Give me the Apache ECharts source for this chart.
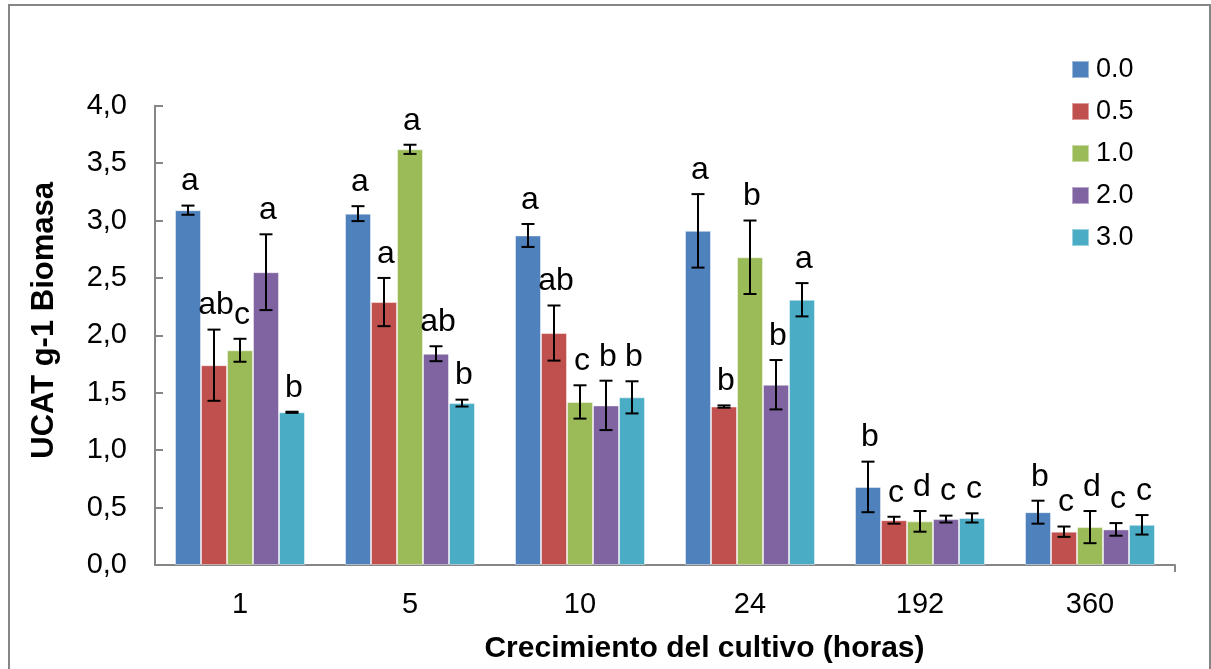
<!DOCTYPE html>
<html>
<head>
<meta charset="utf-8">
<script src="https://cdn.jsdelivr.net/npm/echarts@6/dist/echarts.min.js"></script>
<style>
  html, body { margin: 0; padding: 0; background: #fff; }
  #chart { width: 1211px; height: 669px; }
</style>
</head>
<body>
<div id="chart"></div>
<script>
// Culture growth time (hours)
const categories = ['1', '5', '10', '24', '192', '360'];
const seriesNames = ['0.0', '0.5', '1.0', '2.0', '3.0'];
const colors = ['#4F81BD', '#C0504D', '#9BBB59', '#8064A2', '#4BACC6'];

// Mean UCAT per g biomass for each treatment
const mean00 = [3.09, 3.06, 2.87, 2.91, 0.68, 0.46];
const mean05 = [1.74, 2.29, 2.02, 1.38, 0.39, 0.29];
const mean10 = [1.87, 3.62, 1.42, 2.68, 0.38, 0.33];
const mean20 = [2.55, 1.84, 1.39, 1.57, 0.40, 0.31];
const mean30 = [1.33, 1.41, 1.46, 2.31, 0.41, 0.35];

// Standard error for each bar
const err00 = [0.04, 0.065, 0.10, 0.32, 0.22, 0.10];
const err05 = [0.31, 0.21, 0.24, 0.01, 0.03, 0.045];
const err10 = [0.10, 0.04, 0.145, 0.32, 0.09, 0.14];
const err20 = [0.33, 0.065, 0.215, 0.215, 0.03, 0.055];
const err30 = [0.005, 0.03, 0.14, 0.145, 0.04, 0.085];

// Significance letters
const sig00 = ['a', 'a', 'a', 'a', 'b', 'b'];
const sig05 = ['ab', 'a', 'ab', 'b', 'c', 'c'];
const sig10 = ['c', 'a', 'c', 'b', 'd', 'd'];
const sig20 = ['a', 'ab', 'b', 'b', 'c', 'c'];
const sig30 = ['b', 'b', 'b', 'a', 'c', 'c'];

// Y axis ticks
const yTicks = [0, 0.5, 1.0, 1.5, 2.0, 2.5, 3.0, 3.5, 4.0];

const means = [mean00, mean05, mean10, mean20, mean30];
const errs = [err00, err05, err10, err20, err30];
const sigs = [sig00, sig05, sig10, sig20, sig30];

const FONT = '"Liberation Sans", Arial, sans-serif';
const CAT_GAP = 0.2353;

const chart = echarts.init(document.getElementById('chart'), null, { renderer: 'canvas' });

const barSeries = seriesNames.map((name, k) => ({
  name: name,
  type: 'bar',
  data: means[k],
  barGap: '0%',
  barCategoryGap: (CAT_GAP * 100) + '%',
  itemStyle: { color: colors[k], borderColor: 'rgba(255,255,255,0.45)', borderWidth: 1 },
  z: 2
}));

// Error bars with the letter above each one
const errSeries = seriesNames.map((name, k) => ({
  type: 'custom',
  data: categories.map((c, i) => [i, means[k][i], errs[k][i]]),
  z: 5,
  silent: true,
  renderItem: function (params, api) {
    const ci = api.value(0), v = api.value(1), e = api.value(2);
    const band = api.size([1, 0])[0];
    const bw = band * (1 - CAT_GAP) / seriesNames.length;
    const x = api.coord([ci, v])[0] + (k - (seriesNames.length - 1) / 2) * bw;
    const yTop = api.coord([ci, v + e])[1];
    const yBot = api.coord([ci, v - e])[1];
    const cap = 6.5;
    const ls = { stroke: '#000', lineWidth: 2 };
    return {
      type: 'group',
      children: [
        { type: 'line', shape: { x1: x, y1: yTop, x2: x, y2: yBot }, style: ls },
        { type: 'line', shape: { x1: x - cap, y1: yTop, x2: x + cap, y2: yTop }, style: ls },
        { type: 'line', shape: { x1: x - cap, y1: yBot, x2: x + cap, y2: yBot }, style: ls },
        {
          type: 'text',
          style: {
            text: sigs[k][params.dataIndex],
            x: x + 2,
            y: yTop - 24,
            align: 'center',
            verticalAlign: 'middle',
            fontFamily: FONT,
            fontSize: 32,
            fill: '#000'
          }
        }
      ]
    };
  }
}));

const option = {
  animation: false,
  backgroundColor: '#fff',
  grid: { left: 155, right: 36, top: 105.7, bottom: 104, containLabel: false },
  legend: {
    orient: 'vertical',
    left: 1066,
    top: 51,
    data: seriesNames,
    icon: 'rect',
    itemWidth: 17,
    itemHeight: 17,
    itemGap: 15,
    textStyle: { fontFamily: FONT, fontSize: 27, color: '#000', padding: [0, 0, 0, 2] }
  },
  xAxis: {
    type: 'category',
    data: categories,
    name: 'Crecimiento del cultivo (horas)',
    nameLocation: 'middle',
    nameGap: 69,
    nameTextStyle: { fontFamily: FONT, fontSize: 30, fontWeight: 'bold', color: '#000', padding: [0, 0, 0, 79] },
    axisLine: { lineStyle: { color: '#868686', width: 2 } },
    axisTick: { alignWithLabel: true, length: 6, lineStyle: { color: '#868686', width: 2 } },
    axisLabel: { fontFamily: FONT, fontSize: 29, color: '#000', margin: 25 },
    splitLine: { show: false }
  },
  yAxis: {
    type: 'value',
    min: yTicks[0],
    max: yTicks[yTicks.length - 1],
    interval: yTicks[1] - yTicks[0],
    name: 'UCAT g-1 Biomasa',
    nameLocation: 'middle',
    nameGap: 95,
    nameRotate: 90,
    nameTextStyle: { fontFamily: FONT, fontSize: 31, fontWeight: 'bold', color: '#000', padding: [0, 0, 0, 30] },
    axisLine: { show: true, lineStyle: { color: '#868686', width: 2 } },
    axisTick: { show: true, inside: true, length: 8, lineStyle: { color: '#868686', width: 2 } },
    axisLabel: {
      fontFamily: FONT, fontSize: 29, color: '#000', margin: 28,
      formatter: v => v.toFixed(1).replace('.', ',')
    },
    splitLine: { show: false }
  },
  series: barSeries.concat(errSeries)
};

chart.setOption(option);

// Closing tick at the right end of the category axis and the outer frame
const xa = chart.convertToPixel({ xAxisIndex: 0 }, categories.length - 1);
const xb = chart.convertToPixel({ xAxisIndex: 0 }, categories.length - 2);
const xEnd = xa + (xa - xb) / 2;
const yBase = chart.convertToPixel({ yAxisIndex: 0 }, 0);
chart.setOption({
  graphic: [
    { type: 'line', shape: { x1: xEnd, y1: yBase, x2: xEnd, y2: yBase + 7 }, style: { stroke: '#868686', lineWidth: 2 }, z: 10 },
    { type: 'rect', shape: { x: 9, y: 5, width: 1201, height: 700 }, style: { stroke: '#868686', lineWidth: 2, fill: null }, z: 10, silent: true }
  ]
});
</script>
</body>
</html>
